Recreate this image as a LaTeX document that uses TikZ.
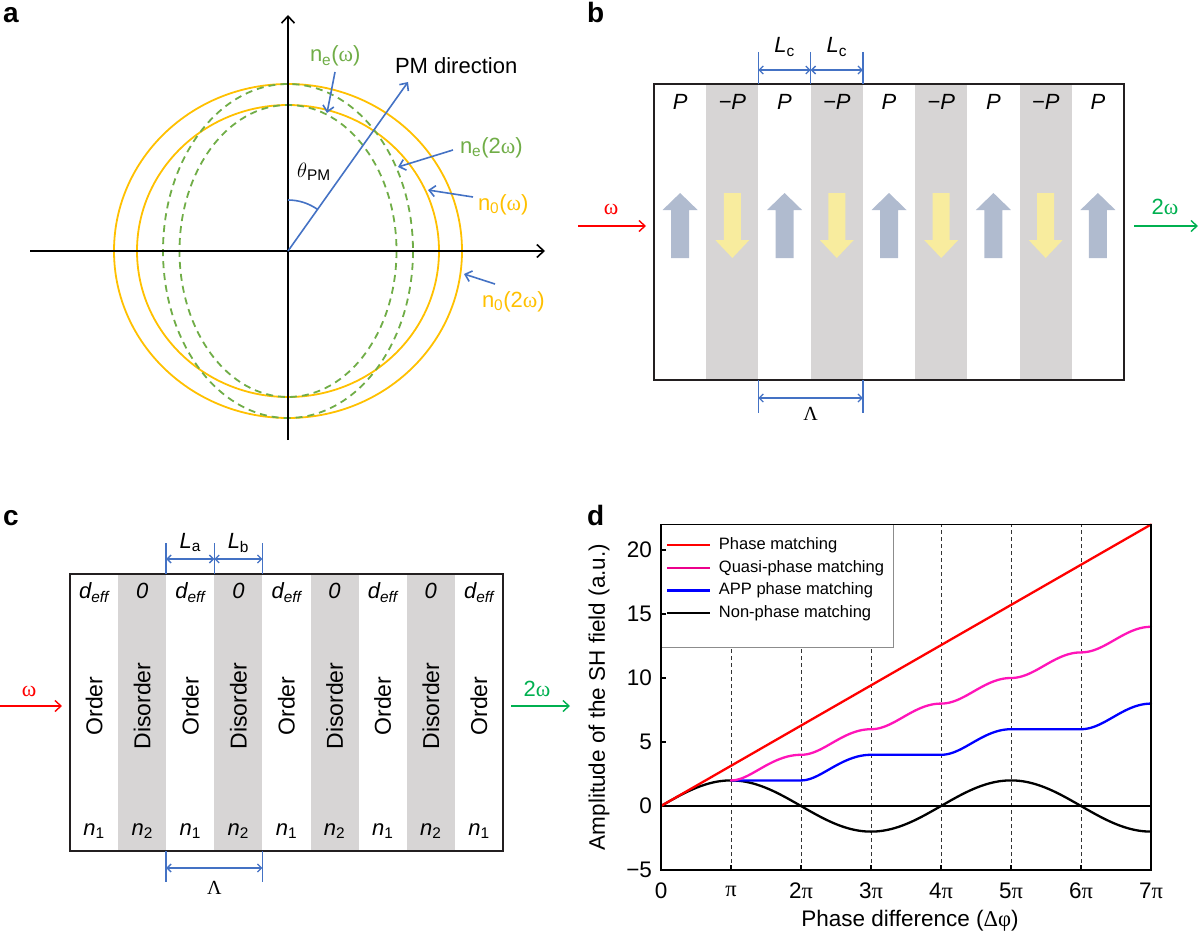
\documentclass[tikz,border=0pt]{standalone}
\usepackage{fontspec}
\setmainfont{Liberation Sans}
\newfontfamily\gr{Liberation Serif}
\usetikzlibrary{arrows.meta}
\definecolor{cgold}{HTML}{FFC000}
\definecolor{cgreen}{HTML}{70AD47}
\definecolor{cblue}{HTML}{4472C4}
\definecolor{cstrip}{HTML}{D7D5D5}
\definecolor{cup}{HTML}{B0BBCF}
\definecolor{cdown}{HTML}{F8EC9E}
\definecolor{cred}{HTML}{FF0000}
\definecolor{cgout}{HTML}{00B050}
\definecolor{cmag}{HTML}{FF14B8}
\definecolor{cpblue}{HTML}{0000FF}
\definecolor{cbox}{HTML}{231F20}
\newcommand\fsz[1]{\fontsize{#1}{#1}\selectfont}
\begin{document}
\begin{tikzpicture}[x=1pt,y=-1pt,
  every node/.style={inner sep=0pt, outer sep=0pt},
  txt/.style={font=\fsz{22}},
  ctxt/.style={font=\fsz{23}},
  legtxt/.style={font=\fsz{16.5}},
  panel/.style={font=\fsz{28}\bfseries},
  axisarrow/.style={draw=black, line width=1.6pt, -{Straight Barb[length=7pt,width=13pt,line width=1.6pt]}},
  ptr/.style={draw=cblue, line width=1.6pt, -{Straight Barb[length=6pt,width=11pt,line width=1.6pt]}},
  dimarrow/.style={draw=cblue, line width=1.3pt, {Straight Barb[length=4pt,width=8pt]}-{Straight Barb[length=4pt,width=8pt]}},
  dimtick/.style={draw=cblue, line width=1.5pt},
  beamin/.style={draw=cred, line width=1.4pt, -{Straight Barb[length=6pt,width=11pt,line width=1.4pt]}},
  beamout/.style={draw=cgout, line width=1.4pt, -{Straight Barb[length=6pt,width=11pt,line width=1.4pt]}},
  boxline/.style={draw=cbox, line width=2pt},
  goldline/.style={draw=cgold, line width=1.8pt},
  greendash/.style={draw=cgreen, line width=1.8pt, dash pattern=on 7pt off 5pt},
  curve/.style={line width=2.3pt, line join=round, line cap=round},
]
\useasboundingbox (0,0) rectangle (1200,934);

% ================= panel a =================
\node[panel, anchor=base west] (la) at (3,23) {a};
\coordinate (O) at (288,251);
\draw[goldline] (O) ellipse [x radius=174, y radius=167];
\draw[goldline] (O) ellipse [x radius=151, y radius=146];
\draw[greendash] (O) ellipse [x radius=125, y radius=167];
\draw[greendash] (O) ellipse [x radius=108.5, y radius=146];
\coordinate (xl) at (30,251); \coordinate (xr) at (545,251);
\coordinate (yb) at (288,440); \coordinate (yt) at (288,15);
\draw[axisarrow] (xl) -- (xr);
\draw[axisarrow] (yb) -- (yt);
\coordinate (pm) at (408,82);
\draw[ptr] (O) -- (pm);
\draw[cblue, line width=1.6pt] (288,200) arc[start angle=-90, end angle=-54.3, radius=51];
\node[txt, anchor=base west] (tpm) at (297,177) {$\theta$\textsubscript{PM}};
\node[txt, anchor=base west] (pmdir) at (395,74) {PM direction};
\node[txt, anchor=base west, text=cgreen] (new) at (310,62) {n\textsubscript{e}({\gr ω})};
\node[txt, anchor=base west, text=cgreen] (ne2w) at (460,153) {n\textsubscript{e}(2{\gr ω})};
\node[txt, anchor=base west, text=cgold] (now) at (478,210) {n\textsubscript{0}({\gr ω})};
\node[txt, anchor=base west, text=cgold] (no2w) at (482,307) {n\textsubscript{0}(2{\gr ω})};
\coordinate (a1s) at (335,72);  \coordinate (a1e) at (327,113);
\coordinate (a2s) at (453,150); \coordinate (a2e) at (398,167);
\coordinate (a3s) at (473,197); \coordinate (a3e) at (428,190);
\coordinate (a4s) at (495,284); \coordinate (a4e) at (464,274);
\draw[ptr] (a1s) -- (a1e);
\draw[ptr] (a2s) -- (a2e);
\draw[ptr] (a3s) -- (a3e);
\draw[ptr] (a4s) -- (a4e);

% ================= panel b =================
\node[panel, anchor=base west] (lb) at (587,23) {b};
\foreach \i in {1,3,5,7}
  \fill[cstrip] ({654+\i*470/9},84) rectangle ({654+(\i+1)*470/9},380);
\node[boxline, minimum width=470pt, minimum height=296pt] (boxb) at (889,232) {};
\foreach \i in {0,2,4,6,8} {
  \pgfmathsetmacro\cx{654+(\i+0.5)*470/9}
  \fill[cup] (\cx-9,258) -- (\cx-9,210) -- (\cx-17.5,210) -- (\cx,193) -- (\cx+17.5,210) -- (\cx+9,210) -- (\cx+9,258) -- cycle;
  \node[txt, anchor=base] (bP\i) at (\cx,110) {\itshape P};
}
\foreach \i in {1,3,5,7} {
  \pgfmathsetmacro\cx{654+(\i+0.5)*470/9}
  \fill[cdown] (\cx-8.5,193) -- (\cx+8.5,193) -- (\cx+8.5,240) -- (\cx+17,240) -- (\cx,258) -- (\cx-17,240) -- (\cx-8.5,240) -- cycle;
  \node[txt, anchor=base] (bP\i) at (\cx,110) {\itshape −P};
}
% Lc dimensions
\coordinate (bt1) at (758.4,52); \coordinate (bt1b) at (758.4,84);
\coordinate (bt2) at (810.7,52); \coordinate (bt2b) at (810.7,84);
\coordinate (bt3) at (862.9,52); \coordinate (bt3b) at (862.9,84);
\draw[dimtick] (bt1) -- (bt1b); \draw[dimtick] (bt2) -- (bt2b); \draw[dimtick] (bt3) -- (bt3b);
\coordinate (bd1) at (758.4,70); \coordinate (bd2) at (810.7,70); \coordinate (bd3) at (862.9,70);
\draw[dimarrow] (bd1) -- (bd2);
\draw[dimarrow] (bd2) -- (bd3);
\node[txt, anchor=base] (lc1) at (784.5,53) {{\itshape L}\textsubscript{c}};
\node[txt, anchor=base] (lc2) at (836.8,53) {{\itshape L}\textsubscript{c}};
% Lambda b
\coordinate (bb1) at (758.4,380); \coordinate (bb1e) at (758.4,413);
\coordinate (bb3) at (862.9,380); \coordinate (bb3e) at (862.9,413);
\draw[dimtick] (bb1) -- (bb1e); \draw[dimtick] (bb3) -- (bb3e);
\coordinate (bl1) at (758.4,398); \coordinate (bl3) at (862.9,398);
\draw[dimarrow] (bl1) -- (bl3);
\node[font=\fsz{20}\gr] (lamb) at (810.7,414) {Λ};
% beams b
\coordinate (bin1) at (578,226); \coordinate (bin2) at (646,226);
\draw[beamin] (bin1) -- (bin2);
\node[txt, anchor=base, text=cred] (bw) at (611,214) {\gr ω};
\coordinate (bout1) at (1134,226); \coordinate (bout2) at (1198,226);
\draw[beamout] (bout1) -- (bout2);
\node[txt, anchor=base, text=cgout] (b2w) at (1165,214) {2{\gr ω}};

% ================= panel c =================
\node[panel, anchor=base west] (lc) at (3,525) {c};
\foreach \i in {1,3,5,7}
  \fill[cstrip] ({70+\i*433/9},574) rectangle ({70+(\i+1)*433/9},851);
\node[boxline, minimum width=433pt, minimum height=277pt] (boxc) at (286.5,712.5) {};
\foreach \i in {0,2,4,6,8} {
  \pgfmathsetmacro\cx{70+(\i+0.5)*433/9}
  \node[txt, anchor=base] (cd\i) at (\cx,598) {\itshape d\textsubscript{eff}};
  \node[ctxt, rotate=90] (co\i) at (\cx,706) {Order};
  \node[txt, anchor=base] (cn\i) at (\cx,835) {{\itshape n}\textsubscript{1}};
}
\foreach \i in {1,3,5,7} {
  \pgfmathsetmacro\cx{70+(\i+0.5)*433/9}
  \node[txt, anchor=base] (cd\i) at (\cx,598) {\itshape 0};
  \node[ctxt, rotate=90] (co\i) at (\cx,706) {Disorder};
  \node[txt, anchor=base] (cn\i) at (\cx,835) {{\itshape n}\textsubscript{2}};
}
\coordinate (ct1) at (166.2,543); \coordinate (ct1b) at (166.2,574);
\coordinate (ct2) at (214.3,543); \coordinate (ct2b) at (214.3,574);
\coordinate (ct3) at (262.4,543); \coordinate (ct3b) at (262.4,574);
\draw[dimtick] (ct1) -- (ct1b); \draw[dimtick] (ct2) -- (ct2b); \draw[dimtick] (ct3) -- (ct3b);
\coordinate (cd1) at (166.2,559); \coordinate (cd2) at (214.3,559); \coordinate (cd3) at (262.4,559);
\draw[dimarrow] (cd1) -- (cd2);
\draw[dimarrow] (cd2) -- (cd3);
\node[txt, anchor=base] (lla) at (190.3,548) {{\itshape L}\textsubscript{a}};
\node[txt, anchor=base] (llb) at (238.4,548) {{\itshape L}\textsubscript{b}};
\coordinate (cb1) at (166.2,851); \coordinate (cb1e) at (166.2,882);
\coordinate (cb3) at (262.4,851); \coordinate (cb3e) at (262.4,882);
\draw[dimtick] (cb1) -- (cb1e); \draw[dimtick] (cb3) -- (cb3e);
\coordinate (cl1) at (166.2,868); \coordinate (cl3) at (262.4,868);
\draw[dimarrow] (cl1) -- (cl3);
\node[font=\fsz{20}\gr] (lamc) at (214.3,888) {Λ};
\coordinate (cin1) at (0,706); \coordinate (cin2) at (62,706);
\draw[beamin] (cin1) -- (cin2);
\node[txt, anchor=base, text=cred] (cw) at (29,696) {\gr ω};
\coordinate (cout1) at (511,706); \coordinate (cout2) at (570,706);
\draw[beamout] (cout1) -- (cout2);
\node[txt, anchor=base, text=cgout] (c2w) at (537,696) {2{\gr ω}};

% ================= panel d =================
\node[panel, anchor=base west] (ld) at (587,525) {d};
\node[font=\fsz{22.5}, rotate=90] (ylab) at (599,697) {Amplitude of the SH field (a.u.)};
\node[font=\fsz{22.5}] (xlab) at (910,921) {Phase difference ({\gr Δφ})};
\begin{scope}[shift={(661pt,-806pt)}, x=22.2817pt, y=12.8pt]
  \foreach \k in {1,...,6}
    \draw[line width=0.9pt, dash pattern=on 4pt off 3pt, black!80] ({\k*pi},-5) -- ({\k*pi},22);
  % legend box
  \node[draw=black!45, fill=white, line width=0.9pt, minimum width=232pt, minimum height=123pt, anchor=north west] (legend) at (0,22) {};
  \draw[line width=1.3pt] (0,0) -- ({7*pi},0);
  % ticks
  \foreach \v in {-5,0,5,10,15,20} {
    \draw[line width=1.3pt] (0,\v) -- ++(5pt,0);
    \node[font=\fsz{22.5}, anchor=east] (yt\v) at ([xshift=-9pt]0,\v) {\ifnum\v<0 −5\else\v\fi};
  }
  \foreach \k/\lab in {0/0,1/{\gr π},2/2{\gr π},3/3{\gr π},4/4{\gr π},5/5{\gr π},6/6{\gr π},7/7{\gr π}} {
    \draw[line width=1.3pt] ({\k*pi},-5) -- ++(0,5pt);
    \node[font=\fsz{22.5}] (xt\k) at ([yshift=-21pt]{\k*pi},-5) {\lab};
  }
  % curves
  \draw[curve, black] plot[domain=0:7*pi, samples=220, smooth] (\x, {2*sin(deg(\x/2))});
  \draw[curve, cpblue] ({pi},2) -- ({2*pi},2) -- plot[domain=2*pi:3*pi, samples=40, smooth] (\x,{sqrt(10-6*cos(deg(\x)))}) -- ({4*pi},4) -- plot[domain=4*pi:5*pi, samples=40, smooth] (\x,{sqrt(26-10*cos(deg(\x)))}) -- ({6*pi},6) -- plot[domain=6*pi:7*pi, samples=40, smooth] (\x,{sqrt(50-14*cos(deg(\x)))});
  \draw[curve, cmag] plot[domain=pi:7*pi, samples=300, smooth] (\x, {sqrt((2*floor(\x/pi)+1)^2 + 1 - 2*(2*floor(\x/pi)+1)*cos(deg(\x - floor(\x/pi)*pi)))});
  \draw[curve, cred] (0,0) -- ({7*pi},{7*pi});
  % axes box
  \draw[line width=1.6pt, black] (0,-5) rectangle ({7*pi},22);
  % legend entries
  \coordinate (lg1a) at (0.27,20.39); \coordinate (lg1b) at (2.2,20.39);
  \coordinate (lg2a) at (0.27,18.59); \coordinate (lg2b) at (2.2,18.59);
  \coordinate (lg3a) at (0.27,16.83); \coordinate (lg3b) at (2.2,16.83);
  \coordinate (lg4a) at (0.27,15.06); \coordinate (lg4b) at (2.2,15.06);
  \draw[line width=2.3pt, cred] (lg1a) -- (lg1b);
  \draw[line width=2.3pt, magenta] (lg2a) -- (lg2b);
  \draw[line width=2.3pt, cpblue] (lg3a) -- (lg3b);
  \draw[line width=2.3pt, black] (lg4a) -- (lg4b);
  \node[legtxt, anchor=west] (lt1) at (2.6,20.39) {Phase matching};
  \node[legtxt, anchor=west] (lt2) at (2.6,18.59) {Quasi-phase matching};
  \node[legtxt, anchor=west] (lt3) at (2.6,16.83) {APP phase matching};
  \node[legtxt, anchor=west] (lt4) at (2.6,15.06) {Non-phase matching};
\end{scope}
\end{tikzpicture}
\end{document}
